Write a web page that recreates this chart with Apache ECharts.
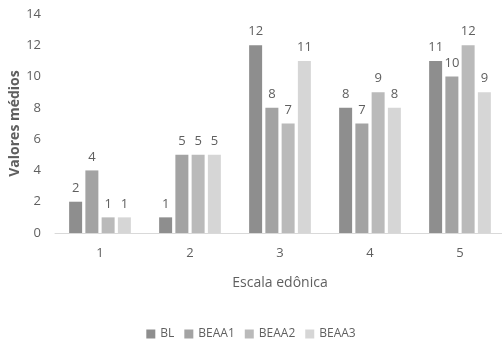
<!DOCTYPE html>
<html>
<head>
<meta charset="utf-8">
<script src="https://cdn.jsdelivr.net/npm/echarts@6/dist/echarts.min.js"></script>
<style>
  html, body { margin: 0; padding: 0; background: #fff; }
  #chart { width: 502px; height: 345px; }
</style>
</head>
<body>
<div id="chart"></div>
<script>
// Mean values per hedonic scale point for each sample
const categories = ['1', '2', '3', '4', '5'];
const seriesNames = ['BL', 'BEAA1', 'BEAA2', 'BEAA3'];
const valuesBL = [2, 1, 12, 8, 11];
const valuesBEAA1 = [4, 5, 8, 7, 10];
const valuesBEAA2 = [1, 5, 7, 9, 12];
const valuesBEAA3 = [1, 5, 11, 8, 9];
const yTicks = [0, 2, 4, 6, 8, 10, 12, 14];

const allValues = [valuesBL, valuesBEAA1, valuesBEAA2, valuesBEAA3];
const colors = ['#8e8e8e', '#a3a3a3', '#bababa', '#d6d6d6'];
const font = '"Liberation Sans Narrow", "Open Sans", sans-serif';
const textColor = '#5f5f5f';

const chart = echarts.init(document.getElementById('chart'));
chart.setOption({
  animation: false,
  textStyle: { fontFamily: font },
  grid: { left: 55, top: 14, width: 450, height: 219, outerBoundsMode: 'none', containLabel: false },
  legend: {
    data: seriesNames,
    bottom: 0,
    left: 'center',
    itemWidth: 9,
    itemHeight: 9,
    itemGap: 10,
    icon: 'rect',
    textStyle: { color: textColor, fontSize: 12, fontFamily: font }
  },
  xAxis: {
    type: 'category',
    data: categories,
    name: 'Escala edônica',
    nameLocation: 'middle',
    nameGap: 43,
    nameTextStyle: { color: textColor, fontSize: 14, fontFamily: font },
    axisLine: { lineStyle: { color: '#d9d9d9', width: 1 } },
    axisTick: { show: false },
    axisLabel: { color: textColor, fontSize: 13, margin: 14, fontFamily: font }
  },
  yAxis: {
    type: 'value',
    min: yTicks[0],
    max: yTicks[yTicks.length - 1],
    interval: 2,
    name: 'Valores médios',
    nameLocation: 'middle',
    nameGap: 33,
    nameMoveOverlap: false,
    nameTextStyle: { color: textColor, fontSize: 14, fontWeight: 'bold', fontFamily: font },
    axisLine: { show: false },
    axisTick: { show: false },
    splitLine: { show: false },
    axisLabel: { color: textColor, fontSize: 13, margin: 14, fontFamily: font }
  },
  series: seriesNames.map((name, i) => ({
    name,
    type: 'bar',
    data: allValues[i],
    barWidth: 13,
    barGap: '25%',
    itemStyle: { color: colors[i] },
    label: {
      show: true,
      position: 'top',
      distance: 7,
      color: textColor,
      fontSize: 13,
      fontFamily: font
    }
  }))
});
</script>
</body>
</html>
